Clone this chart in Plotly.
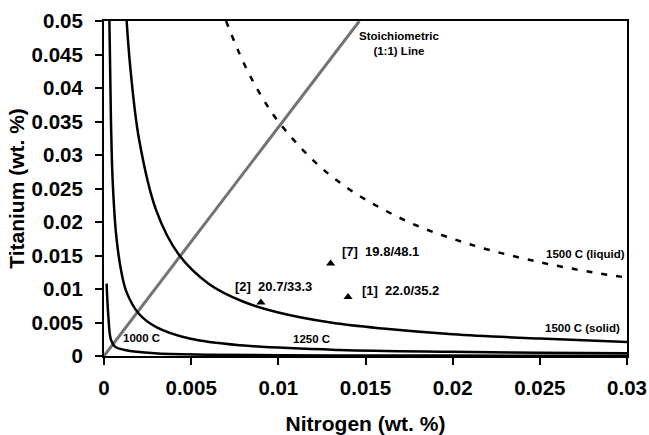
import plotly.graph_objects as go

# Values
n_1000 = [0.00015, 0.00025, 0.0004, 0.00063, 0.0012, 0.0029, 0.006, 0.01, 0.015, 0.02, 0.03]
ti_1000 = [0.0108, 0.0059, 0.0024, 0.0014, 0.0009, 0.0004, 0.0002, 0.00012, 0.00008, 0.00006, 0.00004]

n_1250 = [0.00031, 0.0004, 0.0005, 0.0007, 0.001, 0.0013, 0.002, 0.003, 0.0049, 0.0078, 0.0135, 0.02, 0.025, 0.03]
ti_1250 = [0.05, 0.035, 0.026, 0.018, 0.0125, 0.0095, 0.0063, 0.0043, 0.0026, 0.0016, 0.0009, 0.00063, 0.0005, 0.00042]

n_1500s = [0.0013, 0.0015, 0.002, 0.003, 0.0043, 0.006, 0.008, 0.01, 0.013, 0.016, 0.02, 0.025, 0.03]
ti_1500s = [0.05, 0.0433, 0.0325, 0.0217, 0.0151, 0.0108, 0.0081, 0.0065, 0.005, 0.0041, 0.00325, 0.0026, 0.0021]

n_1500l = [0.007, 0.008, 0.009, 0.01, 0.012, 0.014, 0.016, 0.018, 0.02, 0.022, 0.025, 0.028, 0.03]
ti_1500l = [0.05, 0.0438, 0.0389, 0.035, 0.0292, 0.025, 0.0219, 0.0194, 0.0175, 0.0159, 0.014, 0.0125, 0.0117]

n_stoich = [0.0, 0.01465]
ti_stoich = [0.0, 0.05]

pt_n = [0.0130, 0.0090, 0.0140]
pt_ti = [0.0138, 0.0080, 0.0088]

tick_vals_x = [0, 0.005, 0.01, 0.015, 0.02, 0.025, 0.03]
tick_text_x = ["0", "0.005", "0.01", "0.015", "0.02", "0.025", "0.03"]
tick_vals_y = [0, 0.005, 0.01, 0.015, 0.02, 0.025, 0.03, 0.035, 0.04, 0.045, 0.05]
tick_text_y = ["0", "0.005", "0.01", "0.015", "0.02", "0.025", "0.03", "0.035", "0.04", "0.045", "0.05"]

FONT = "Liberation Sans, Arial, sans-serif"

fig = go.Figure()
fig.add_trace(go.Scatter(x=n_stoich, y=ti_stoich, mode="lines",
                         line=dict(color="#737373", width=3), showlegend=False))
fig.add_trace(go.Scatter(x=n_1000, y=ti_1000, mode="lines", line_shape="spline",
                         line=dict(color="black", width=2.5), showlegend=False))
fig.add_trace(go.Scatter(x=n_1250, y=ti_1250, mode="lines", line_shape="spline",
                         line=dict(color="black", width=2.5), showlegend=False))
fig.add_trace(go.Scatter(x=n_1500s, y=ti_1500s, mode="lines", line_shape="spline",
                         line=dict(color="black", width=2.5), showlegend=False))
fig.add_trace(go.Scatter(x=n_1500l, y=ti_1500l, mode="lines", line_shape="spline",
                         line=dict(color="black", width=2.5, dash="6px,9px"), showlegend=False))
fig.add_trace(go.Scatter(x=pt_n, y=pt_ti, mode="markers",
                         marker=dict(symbol="triangle-up", size=8, color="black"), showlegend=False))

ann = [
    (0.01692, 0.0467, "Stoichiometric<br>(1:1) Line", "center", 11.5),
    (0.02534, 0.01522, "1500 C (liquid)", "left", 11.5),
    (0.0253, 0.00413, "1500 C (solid)", "left", 11.5),
    (0.01082, 0.00254, "1250 C", "left", 11.5),
    (0.00111, 0.00264, "1000 C", "left", 11.5),
    (0.01364, 0.01557, "[7]  19.8/48.1", "left", 13),
    (0.00751, 0.01034, "[2]  20.7/33.3", "left", 13),
    (0.01478, 0.00975, "[1]  22.0/35.2", "left", 13),
]
for x, y, t, xa, fs in ann:
    fig.add_annotation(x=x, y=y, text="<b>" + t + "</b>", showarrow=False,
                       xanchor=xa, yanchor="middle", xshift=-2 if xa == "left" else 0,
                       font=dict(family=FONT, size=fs, color="black"))

axis_common = dict(showline=True, linecolor="black", linewidth=2, mirror=True,
                   ticks="outside", ticklen=7, tickwidth=2, tickcolor="black",
                   showgrid=False, zeroline=False,
                   tickfont=dict(family=FONT, size=20.5, color="black"))

fig.update_xaxes(range=[0, 0.03], tickvals=tick_vals_x,
                 ticktext=["<b>" + t + "</b>" for t in tick_text_x],
                 title=dict(text="<b>Nitrogen (wt. %)</b>", font=dict(family=FONT, size=21, color="black"),
                            standoff=20),
                 ticklabelstandoff=5,
                 **axis_common)
fig.update_yaxes(range=[0, 0.05], tickvals=tick_vals_y,
                 ticktext=["<b>" + t + "</b>" for t in tick_text_y],
                 title=dict(text="<b>Titanium (wt. %)</b>", font=dict(family=FONT, size=21, color="black"),
                            standoff=1),
                 ticklabelstandoff=8,
                 **axis_common)

fig.update_layout(width=649, height=435, margin=dict(l=104, r=22, t=21, b=79, autoexpand=False),
                  plot_bgcolor="white", paper_bgcolor="white")
fig.write_html("out.html", config={"displayModeBar": False},
               post_script="document.body.style.margin='0';document.body.style.padding='0';")
